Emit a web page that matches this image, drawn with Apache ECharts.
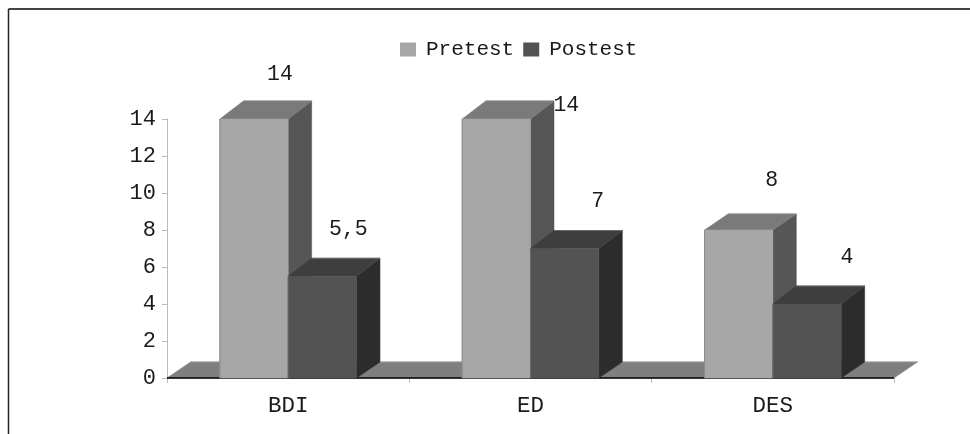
<!DOCTYPE html>
<html>
<head>
<meta charset="utf-8">
<style>html,body{margin:0;padding:0;background:#fff}#c{width:970px;height:434px}</style>
<script src="https://cdn.jsdelivr.net/npm/echarts@6/dist/echarts.min.js"></script>
</head>
<body>
<div id="c"></div>
<script>
const categories = ['BDI', 'ED', 'DES'];
const pretest = [14, 14, 8];
const postest = [5.5, 7, 4];
const pretestLabels = ['14', '14', '8'];
const postestLabels = ['5,5', '7', '4'];

// layout (pixels) only
const FONT = '"Liberation Mono", monospace';
const DX = 23.5, DY = 18, FLOOR_DY = 16;
const BAR_RATIO = 0.282;
const preLabelShift = [[26, -45], [70, -14], [33, -50]];
const postLabelShift = [[26, -47], [33, -47], [40, -47]];

const PRE = { front: '#a6a6a6', top: '#7a7a7a', side: '#565656', edge: '#8a8a8a' };
const POST = { front: '#535353', top: '#3e3e3e', side: '#2c2c2c', edge: '#6a6a6a' };

function poly(points, fill, stroke) {
  return { type: 'polygon', shape: { points }, style: { fill, stroke: stroke || fill, lineWidth: stroke ? 1 : 0.5 } };
}
function barRenderer(colors, offsetSign, labels, shifts) {
  return function (params, api) {
    const i = api.value(0);
    const base = api.coord([i, 0]);
    const top = api.coord([i, api.value(1)]);
    const w = api.size([1, 0])[0] * BAR_RATIO;
    const xl = offsetSign < 0 ? base[0] - w : base[0];
    const xr = xl + w;
    const d = (colors === PRE && api.value(1) < 10) ? FLOOR_DY : DY;
    const yb = base[1], yt = top[1];
    return {
      type: 'group',
      children: [
        poly([[xr, yb], [xr + DX, yb - FLOOR_DY], [xr + DX, yt - d], [xr, yt]], colors.side),
        poly([[xl, yt], [xl + DX, yt - d], [xr + DX, yt - d], [xr, yt]], colors.top),
        poly([[xl, yb], [xr, yb], [xr, yt], [xl, yt]], colors.front),
        { type: 'line', shape: { x1: xl + DX, y1: yt - d, x2: xr + DX, y2: yt - d }, style: { stroke: colors.edge, lineWidth: 1 } },
        { type: 'line', shape: { x1: xl, y1: yt, x2: xl, y2: yb }, style: { stroke: colors.edge, lineWidth: 1 } },
        {
          type: 'text', z2: 100,
          style: {
            text: labels[i], x: (xl + xr) / 2 + shifts[i][0], y: yt + shifts[i][1],
            align: 'center', verticalAlign: 'middle',
            font: '21.5px ' + FONT, fill: '#1a1a1a'
          }
        }
      ]
    };
  };
}
function floorRenderer(params, api) {
  const sys = params.coordSys;
  const x0 = sys.x, x1 = sys.x + sys.width, y = sys.y + sys.height;
  return {
    type: 'group',
    children: [
      poly([[x0, y], [x0 + DX, y - FLOOR_DY], [x1 + DX, y - FLOOR_DY], [x1, y]], '#7f7f7f'),
      { type: 'line', shape: { x1: x0 + DX, y1: y - FLOOR_DY, x2: x1 + DX, y2: y - FLOOR_DY }, style: { stroke: '#999', lineWidth: 1 } },
      { type: 'line', shape: { x1: x0, y1: y, x2: x1, y2: y }, style: { stroke: '#000', lineWidth: 1.5 } }
    ]
  };
}

const chart = echarts.init(document.getElementById('c'), null, { renderer: 'canvas' });
chart.setOption({
  animation: false,
  backgroundColor: '#fff',
  textStyle: { fontFamily: FONT },
  legend: {
    left: 400, top: 39, itemWidth: 16, itemHeight: 14, itemGap: 9, icon: 'rect',
    padding: 0,
    data: ['Pretest', 'Postest'],
    textStyle: { fontFamily: FONT, fontSize: 21, color: '#1a1a1a', padding: [0, 0, 0, 5] }
  },
  grid: { left: 167, right: 76, top: 119, bottom: 56 },
  xAxis: {
    type: 'category', data: categories,
    axisLine: { lineStyle: { color: '#000', width: 0 } },
    axisTick: { show: true, alignWithLabel: false, length: 5, lineStyle: { color: '#bbb' } },
    axisLabel: { fontFamily: FONT, fontSize: 22.5, color: '#1a1a1a', margin: 17 },
    splitLine: { show: false }
  },
  yAxis: {
    type: 'value', min: 0, max: 14, interval: 2,
    axisLine: { show: true, lineStyle: { color: '#bbb', width: 1 } },
    axisTick: { show: true, length: 5, lineStyle: { color: '#bbb' } },
    axisLabel: { fontFamily: FONT, fontSize: 22, color: '#1a1a1a', margin: 11, padding: [5, 0, 0, 0] },
    splitLine: { show: false }
  },
  series: [
    { type: 'custom', name: 'floor', silent: true, z: 1, renderItem: floorRenderer, data: [[0, 0]], encode: { x: 0, y: 1 } },
    { type: 'custom', name: 'Pretest', z: 2, color: PRE.front, itemStyle: { color: PRE.front },
      renderItem: barRenderer(PRE, -1, pretestLabels, preLabelShift),
      data: pretest.map((v, i) => [i, v]), encode: { x: 0, y: 1 } },
    { type: 'custom', name: 'Postest', z: 3, color: POST.front, itemStyle: { color: POST.front },
      renderItem: barRenderer(POST, 1, postestLabels, postLabelShift),
      data: postest.map((v, i) => [i, v]), encode: { x: 0, y: 1 } }
  ],
  graphic: [
    { type: 'line', shape: { x1: 8.5, y1: 9, x2: 970, y2: 9 }, style: { stroke: '#444', lineWidth: 2 } },
    { type: 'line', shape: { x1: 8.5, y1: 9, x2: 8.5, y2: 434 }, style: { stroke: '#222', lineWidth: 1.5 } }
  ]
});
</script>
</body>
</html>
